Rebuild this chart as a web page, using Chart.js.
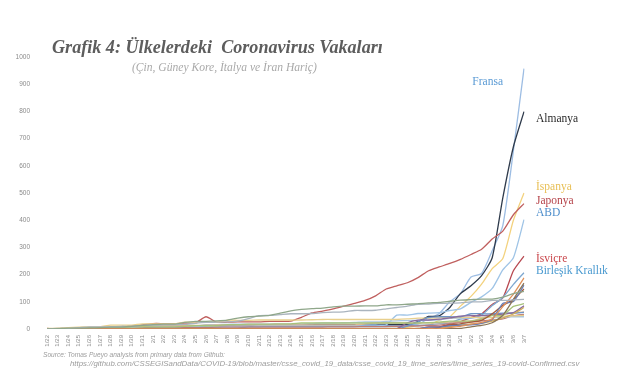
<!DOCTYPE html>
<html><head><meta charset="utf-8">
<script src="https://cdn.jsdelivr.net/npm/chart.js@4/dist/chart.umd.min.js"></script>
<style>html,body{margin:0;padding:0;background:#fff}canvas{display:block}</style>
</head><body>
<canvas id="c" width="640" height="386"></canvas>
<script>
// ---- data (confirmed cases, 1/22 - 3/7) ----
const dates = ["1/22","1/23","1/24","1/25","1/26","1/27","1/28","1/29","1/30","1/31",
 "2/1","2/2","2/3","2/4","2/5","2/6","2/7","2/8","2/9","2/10","2/11","2/12","2/13","2/14","2/15",
 "2/16","2/17","2/18","2/19","2/20","2/21","2/22","2/23","2/24","2/25","2/26","2/27","2/28","2/29",
 "3/1","3/2","3/3","3/4","3/5","3/6","3/7"];
const yTicks = [0,100,200,300,400,500,600,700,800,900,1000];

const france = [0,0,2,3,3,3,4,5,5,5, 6,6,6,6,6,6,6,11,11,11,11,11,11,11,12,12,12,12,12,12,12,12,12,12,14,18,38,57,100, 130,191,204,288,380,656,957];
const germany = [0,0,0,0,0,1,4,4,4,5, 8,10,12,12,12,12,13,13,14,14,16,16,16,16,16,16,16,16,16,16,16,16,16,16,17,27,46,48,79, 130,159,196,262,482,670,799];
const spain = [0,0,0,0,0,0,0,0,0,0, 1,1,1,1,1,1,1,1,2,2,2,2,2,2,2,2,2,2,2,2,2,2,2,2,6,13,15,32,45, 84,120,165,222,259,400,500];
const japan = [2,1,2,2,4,4,7,7,11,15, 20,20,20,22,22,45,25,25,26,26,26,28,28,29,43,59,66,74,84,94,105,122,147,159,170,189,214,228,241, 256,274,293,331,360,420,461];
const usa = [1,1,2,2,5,5,5,5,5,7, 8,8,11,11,11,11,11,11,11,11,12,12,13,13,13,13,13,13,13,13,15,15,15,51,51,57,58,60,68, 74,98,118,149,217,262,402];
const switzerland = [0,0,0,0,0,0,0,0,0,0, 0,0,0,0,0,0,0,0,0,0,0,0,0,0,0,0,0,0,0,0,0,0,0,0,1,1,8,8,18, 27,42,56,90,114,214,268];
const uk = [0,0,0,0,0,0,0,0,0,2, 2,2,2,2,2,2,3,3,3,8,8,9,9,9,9,9,9,9,9,9,9,9,9,9,13,13,15,20,23, 36,40,51,86,116,164,207];
const singapore = [0,1,3,3,4,5,7,7,10,13, 16,18,18,24,28,28,30,33,40,45,47,50,58,67,72,75,77,81,84,84,85,85,89,89,91,93,96,98,102, 106,108,110,110,117,130,138];
const hongKong = [0,2,2,5,8,8,8,10,10,13, 14,15,15,17,21,24,25,26,29,38,49,50,53,56,56,57,60,62,63,68,68,69,74,79,84,91,92,94,95, 96,100,100,105,105,107,109];
const netherlands = [0,0,0,0,0,0,0,0,0,0, 0,0,0,0,0,0,0,0,0,0,0,0,0,0,0,0,0,0,0,0,0,0,0,0,0,0,1,1,6, 10,18,24,38,82,128,188];
const belgium = [0,0,0,0,0,0,0,0,0,0, 0,0,0,1,1,1,1,1,1,1,1,1,1,1,1,1,1,1,1,1,1,1,1,1,1,1,1,1,1, 2,8,13,23,50,109,169];
const sweden = [0,0,0,0,0,0,0,0,0,1, 1,1,1,1,1,1,1,1,1,1,1,1,1,1,1,1,1,1,1,1,1,1,1,1,1,2,7,7,12, 14,15,21,35,94,101,161];
const norway = [0,0,0,0,0,0,0,0,0,0, 0,0,0,0,0,0,0,0,0,0,0,0,0,0,0,0,0,0,0,0,0,0,0,0,0,1,1,6,15, 19,25,32,56,87,108,147];
const austria = [0,0,0,0,0,0,0,0,0,0, 0,0,0,0,0,0,0,0,0,0,0,0,0,0,0,0,0,0,0,0,0,0,0,0,2,2,3,3,9, 14,18,21,29,41,55,79];
const malaysia = [0,0,0,3,4,4,4,7,8,8, 8,8,8,10,12,12,12,16,16,18,18,18,19,19,22,22,22,22,22,22,22,22,22,22,22,22,23,25,29, 29,29,36,50,50,83,93];
const bahrain = [0,0,0,0,0,0,0,0,0,0, 0,0,0,0,0,0,0,0,0,0,0,0,0,0,0,0,0,0,0,0,0,0,0,1,23,33,33,36,41, 47,49,49,52,55,60,85];
const kuwait = [0,0,0,0,0,0,0,0,0,0, 0,0,0,0,0,0,0,0,0,0,0,0,0,0,0,0,0,0,0,0,0,0,0,1,11,26,43,45,45, 45,56,56,56,58,58,61];
const australia = [0,0,0,0,4,5,5,6,9,9, 12,12,12,13,13,14,15,15,15,15,15,15,15,15,15,15,15,15,15,15,19,22,22,22,22,22,23,23,25, 27,30,39,52,55,60,63];
const thailand = [2,3,5,7,8,8,14,14,14,19, 19,19,19,25,25,25,25,32,32,32,33,33,33,33,33,34,35,35,35,35,35,35,35,35,37,40,40,41,42, 42,43,43,43,47,48,50];
const taiwan = [1,1,3,3,4,5,8,8,9,10, 10,10,10,11,11,16,16,17,18,18,18,18,18,18,18,20,22,22,23,24,26,26,28,30,31,32,32,34,39, 40,41,42,42,44,45,45];
const canada = [0,0,0,0,1,1,2,2,2,4, 4,4,4,5,5,5,7,7,7,7,7,7,7,7,7,7,7,8,8,8,9,9,9,10,11,11,13,14,20, 24,27,30,33,37,49,54];

// labelled series
const labelNames = ["Fransa","Almanya","İspanya","Japonya","ABD","İsviçre","Birleşik Krallık"];
const labelSeries = [france, germany, spain, japan, usa, switzerland, uk];

// ---- styles ----
const labelColors = ["#5b9bd5","#2b2b2b","#e8bf55","#b5434a","#4f8fcc","#c9464b","#4a9ad0"];
const labelLineColors = ["#9dbde3","#2f3b4c","#f3d27e","#c0605f","#9fc4e6","#b84a52","#7fa8d0"];
const labelAnchors = [908,772,522,472,426,257,213]; // label placement in value units
const otherSeries = [
  [singapore,"#8fa78a"],[hongKong,"#aab4be"],[netherlands,"#e0915a"],[belgium,"#8a7457"],
  [sweden,"#6a7fb5"],[norway,"#a55a3c"],[austria,"#cfae5c"],[malaysia,"#a7c27a"],
  [bahrain,"#8a6a9c"],[kuwait,"#6f95c6"],[australia,"#d9b892"],[thailand,"#e8cf8c"],
  [taiwan,"#a9c6e0"],[canada,"#bb7b78"]
];

const datasets = [];
otherSeries.forEach(([d,c]) => datasets.push({data:d, borderColor:c}));
for (let i = labelSeries.length - 1; i >= 0; i--) {
  datasets.push({data:labelSeries[i], borderColor:labelLineColors[i]});
}

function fitFont(ctx, text, style, family, width) {
  ctx.font = style + " 20px " + family;
  const w = ctx.measureText(text).width;
  return style + " " + (20 * width / w).toFixed(2) + "px " + family;
}

const textPlugin = {
  id: "texts",
  afterDraw(chart) {
    const ctx = chart.ctx, ca = chart.chartArea, ys = chart.scales.y;
    ctx.save();
    ctx.textBaseline = "alphabetic";
    ctx.textAlign = "left";
    // title
    const title = "Grafik 4: Ülkelerdeki  Coronavirus Vakaları";
    ctx.font = fitFont(ctx, title, "italic bold", "'Liberation Serif', serif", 331);
    ctx.fillStyle = "#5d5d5d";
    ctx.fillText(title, 52, 53);
    const sub = "(Çin, Güney Kore, İtalya ve İran Hariç)";
    ctx.font = fitFont(ctx, sub, "italic", "'Liberation Serif', serif", 185);
    ctx.fillStyle = "#a9a9a9";
    ctx.fillText(sub, 132, 71);
    // source
    const s1 = "Source: Tomas Pueyo analysis from primary data from Github:";
    const s2 = "https://github.com/CSSEGISandData/COVID-19/blob/master/csse_covid_19_data/csse_covid_19_time_series/time_series_19-covid-Confirmed.csv";
    ctx.fillStyle = "#9c9c9c";
    ctx.font = fitFont(ctx, s1, "italic", "'Liberation Sans', sans-serif", 182);
    ctx.fillText(s1, 43, 357);
    ctx.font = fitFont(ctx, s2, "italic", "'Liberation Sans', sans-serif", 510);
    ctx.fillText(s2, 70, 366);
    // series labels
    ctx.font = "11.5px 'Liberation Serif', serif";
    ctx.textBaseline = "middle";
    labelNames.forEach((n, i) => {
      ctx.fillStyle = labelColors[i];
      const y = ys.getPixelForValue(labelAnchors[i]);
      if (i === 0) { ctx.textAlign = "right"; ctx.fillText(n, ca.right - 21, y); }
      else { ctx.textAlign = "left"; ctx.fillText(n, ca.right + 12, y); }
    });
    ctx.restore();
  }
};

new Chart(document.getElementById("c"), {
  type: "line",
  data: { labels: dates, datasets },
  options: {
    responsive: false, animation: false,
    layout: { padding: { left: 0, right: 116, top: 57, bottom: 0 } },
    plugins: { legend: { display: false }, tooltip: { enabled: false }, title: { display: false } },
    elements: { point: { radius: 0 }, line: { borderWidth: 1.3, tension: 0.2 } },
    scales: {
      x: {
        grid: { display: false, drawTicks: false, tickLength: 0 },
        border: { display: false },
        ticks: { autoSkip: false, maxRotation: 90, minRotation: 90, font: { size: 6, family: "'Liberation Sans', sans-serif" }, color: "#8a8a8a", padding: 6 },
        afterFit(s) { s.height = 57; }
      },
      y: {
        min: 0, max: 1000,
        grid: { display: false, drawTicks: false, tickLength: 0 },
        border: { display: false },
        ticks: { stepSize: 100, font: { size: 6.5, family: "'Liberation Sans', sans-serif" }, color: "#8a8a8a", padding: 17,
                 callback: (v) => yTicks.includes(v) ? String(v) : "" },
        afterFit(s) { s.width = 47; }
      }
    }
  },
  plugins: [textPlugin]
});
</script>
</body></html>
